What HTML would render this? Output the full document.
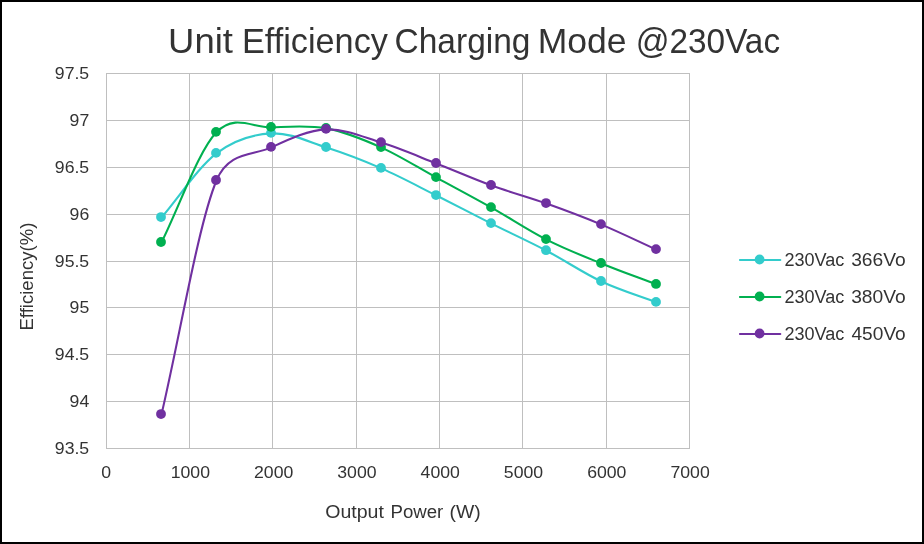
<!DOCTYPE html>
<html><head><meta charset="utf-8"><title>Unit Efficiency Charging Mode @230Vac</title>
<style>
html,body{margin:0;padding:0;background:#fff;}
body{width:924px;height:544px;overflow:hidden;}
svg{display:block;font-family:"Liberation Sans",sans-serif;fill:#333333;will-change:transform;opacity:0.999;}
</style></head><body>
<svg width="924" height="544" viewBox="0 0 924 544">
<rect x="0" y="0" width="924" height="544" fill="#fff"/>
<rect x="1" y="1" width="922" height="542" fill="none" stroke="#000" stroke-width="2"/>
<g fill="#BFBFBF" shape-rendering="crispEdges">
<rect x="106" y="73" width="584" height="1"/>
<rect x="106" y="120" width="584" height="1"/>
<rect x="106" y="167" width="584" height="1"/>
<rect x="106" y="214" width="584" height="1"/>
<rect x="106" y="261" width="584" height="1"/>
<rect x="106" y="307" width="584" height="1"/>
<rect x="106" y="354" width="584" height="1"/>
<rect x="106" y="401" width="584" height="1"/>
<rect x="106" y="448" width="584" height="1"/>
<rect x="106" y="73" width="1" height="376"/>
<rect x="189" y="73" width="1" height="376"/>
<rect x="272" y="73" width="1" height="376"/>
<rect x="356" y="73" width="1" height="376"/>
<rect x="439" y="73" width="1" height="376"/>
<rect x="522" y="73" width="1" height="376"/>
<rect x="606" y="73" width="1" height="376"/>
<rect x="689" y="73" width="1" height="376"/>
</g>
<g>
<text transform="translate(168.12,53.00) scale(1.0300,1)" font-size="35.4">Unit</text>
<text transform="translate(241.99,53.00) scale(0.9675,1)" font-size="35.4">Efficiency</text>
<text transform="translate(394.60,53.00) scale(0.9456,1)" font-size="35.4">Charging</text>
<text transform="translate(537.69,53.00) scale(1.0036,1)" font-size="35.4">Mode</text>
<text transform="translate(635.76,53.00) scale(0.9412,1)" font-size="35.4">@230Vac</text>
</g>
<g>
<text transform="translate(54.82,78.90) scale(1.1047,1)" font-size="16.0">97.5</text>
<text transform="translate(69.56,125.90) scale(1.1047,1)" font-size="16.0">97</text>
<text transform="translate(54.82,172.90) scale(1.1047,1)" font-size="16.0">96.5</text>
<text transform="translate(69.56,219.90) scale(1.1047,1)" font-size="16.0">96</text>
<text transform="translate(54.82,266.90) scale(1.1047,1)" font-size="16.0">95.5</text>
<text transform="translate(69.56,312.90) scale(1.1047,1)" font-size="16.0">95</text>
<text transform="translate(54.82,359.90) scale(1.1047,1)" font-size="16.0">94.5</text>
<text transform="translate(69.56,406.90) scale(1.1047,1)" font-size="16.0">94</text>
<text transform="translate(54.82,453.90) scale(1.1047,1)" font-size="16.0">93.5</text>
</g>
<g>
<text transform="translate(101.28,478.0) scale(1.1047,1)" font-size="16.0">0</text>
<text transform="translate(170.72,478.0) scale(1.1047,1)" font-size="16.0">1000</text>
<text transform="translate(254.01,478.0) scale(1.1047,1)" font-size="16.0">2000</text>
<text transform="translate(337.30,478.0) scale(1.1047,1)" font-size="16.0">3000</text>
<text transform="translate(420.58,478.0) scale(1.1047,1)" font-size="16.0">4000</text>
<text transform="translate(503.87,478.0) scale(1.1047,1)" font-size="16.0">5000</text>
<text transform="translate(587.15,478.0) scale(1.1047,1)" font-size="16.0">6000</text>
<text transform="translate(670.44,478.0) scale(1.1047,1)" font-size="16.0">7000</text>
</g>
<text transform="translate(325.23,517.60) scale(1.0746,1)" font-size="18.2">Output</text>
<text transform="translate(390.46,517.60) scale(1.0241,1)" font-size="18.2">Power</text>
<text transform="translate(449.43,517.60) scale(1.0667,1)" font-size="18.2">(W)</text>
<text transform="translate(33.2,330.53) rotate(-90) scale(1.0203,1)" font-size="18.2">Efficiency(%)</text>
<path transform="translate(0.45,0.5)" d="M161.00,217.05 C179.33,195.67 197.67,166.93 216.00,152.90 C234.33,138.88 252.67,133.88 271.00,132.90 C289.33,131.92 307.67,141.17 326.00,147.00 C344.33,152.83 362.67,159.89 381.00,167.90 C399.33,175.91 417.67,185.85 436.00,195.05 C454.33,204.25 472.67,213.91 491.00,223.10 C509.33,232.29 527.67,240.55 546.00,250.20 C564.33,259.85 582.67,272.38 601.00,281.00 C619.33,289.62 637.67,294.93 656.00,301.90" fill="none" stroke="#33CCCC" stroke-width="2.1" stroke-linecap="round" stroke-linejoin="round"/>
<g fill="#33CCCC">
<circle cx="161.00" cy="217.05" r="4.9"/>
<circle cx="216.00" cy="152.90" r="4.9"/>
<circle cx="271.00" cy="132.90" r="4.9"/>
<circle cx="326.00" cy="147.00" r="4.9"/>
<circle cx="381.00" cy="167.90" r="4.9"/>
<circle cx="436.00" cy="195.05" r="4.9"/>
<circle cx="491.00" cy="223.10" r="4.9"/>
<circle cx="546.00" cy="250.20" r="4.9"/>
<circle cx="601.00" cy="281.00" r="4.9"/>
<circle cx="656.00" cy="301.90" r="4.9"/>
</g>
<path transform="translate(0.45,0.5)" d="M161.00,242.00 C179.33,205.28 197.67,151.03 216.00,131.85 C234.33,112.67 252.67,127.56 271.00,126.90 C289.33,126.24 307.67,124.53 326.00,127.90 C344.33,131.27 362.67,138.90 381.00,147.10 C399.33,155.30 417.67,167.10 436.00,177.10 C454.33,187.10 472.67,196.77 491.00,207.10 C509.33,217.43 527.67,229.78 546.00,239.10 C564.33,248.42 582.67,255.53 601.00,263.00 C619.33,270.48 637.67,276.97 656.00,283.95" fill="none" stroke="#00B050" stroke-width="2.1" stroke-linecap="round" stroke-linejoin="round"/>
<g fill="#00B050">
<circle cx="161.00" cy="242.00" r="4.9"/>
<circle cx="216.00" cy="131.85" r="4.9"/>
<circle cx="271.00" cy="126.90" r="4.9"/>
<circle cx="326.00" cy="127.90" r="4.9"/>
<circle cx="381.00" cy="147.10" r="4.9"/>
<circle cx="436.00" cy="177.10" r="4.9"/>
<circle cx="491.00" cy="207.10" r="4.9"/>
<circle cx="546.00" cy="239.10" r="4.9"/>
<circle cx="601.00" cy="263.00" r="4.9"/>
<circle cx="656.00" cy="283.95" r="4.9"/>
</g>
<path transform="translate(0.45,0.5)" d="M161.00,414.05 C179.33,336.03 197.67,224.53 216.00,180.00 C228.22,150.32 252.67,155.42 271.00,146.90 C289.33,138.38 307.67,129.70 326.00,128.90 C344.33,128.10 362.67,136.42 381.00,142.10 C399.33,147.78 417.67,155.85 436.00,163.00 C454.33,170.15 472.67,178.32 491.00,185.00 C509.33,191.68 527.67,196.53 546.00,203.05 C564.33,209.57 582.67,216.43 601.00,224.10 C619.33,231.77 637.67,240.77 656.00,249.10" fill="none" stroke="#7030A0" stroke-width="2.1" stroke-linecap="round" stroke-linejoin="round"/>
<g fill="#7030A0">
<circle cx="161.00" cy="414.05" r="4.9"/>
<circle cx="216.00" cy="180.00" r="4.9"/>
<circle cx="271.00" cy="146.90" r="4.9"/>
<circle cx="326.00" cy="128.90" r="4.9"/>
<circle cx="381.00" cy="142.10" r="4.9"/>
<circle cx="436.00" cy="163.00" r="4.9"/>
<circle cx="491.00" cy="185.00" r="4.9"/>
<circle cx="546.00" cy="203.05" r="4.9"/>
<circle cx="601.00" cy="224.10" r="4.9"/>
<circle cx="656.00" cy="249.10" r="4.9"/>
</g>
<line x1="739.9" x2="780.3" y1="260.00" y2="260.00" stroke="#33CCCC" stroke-width="2" stroke-linecap="round"/>
<circle cx="759.6" cy="259.50" r="4.9" fill="#33CCCC"/>
<text transform="translate(784.41,265.60) scale(0.9932,1)" font-size="18.2">230Vac</text>
<text transform="translate(851.16,265.60) scale(1.0578,1)" font-size="18.2">366Vo</text>
<line x1="739.9" x2="780.3" y1="297.00" y2="297.00" stroke="#00B050" stroke-width="2" stroke-linecap="round"/>
<circle cx="759.6" cy="296.50" r="4.9" fill="#00B050"/>
<text transform="translate(784.41,302.60) scale(0.9932,1)" font-size="18.2">230Vac</text>
<text transform="translate(851.16,302.60) scale(1.0578,1)" font-size="18.2">380Vo</text>
<line x1="739.9" x2="780.3" y1="334.00" y2="334.00" stroke="#7030A0" stroke-width="2" stroke-linecap="round"/>
<circle cx="759.6" cy="333.50" r="4.9" fill="#7030A0"/>
<text transform="translate(784.41,339.60) scale(0.9932,1)" font-size="18.2">230Vac</text>
<text transform="translate(851.48,339.60) scale(1.0515,1)" font-size="18.2">450Vo</text>
</svg>
</body></html>
